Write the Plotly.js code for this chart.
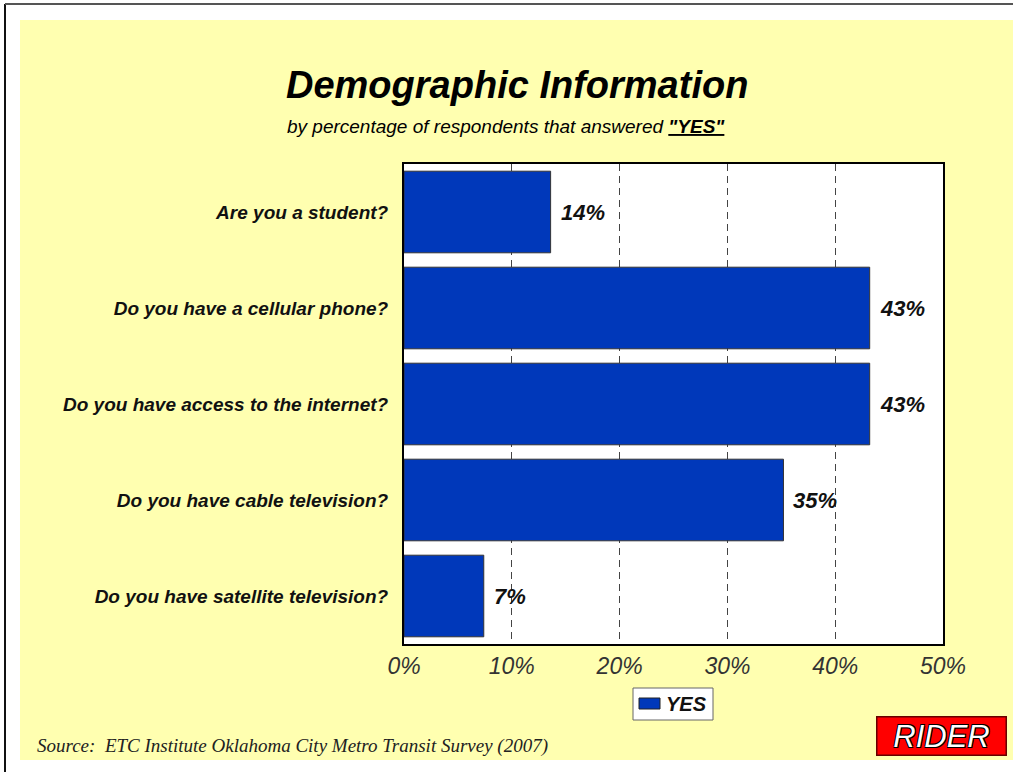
<!DOCTYPE html>
<html>
<head>
<meta charset="utf-8">
<script src="https://cdn.plot.ly/plotly-3.0.1.min.js"></script>
<style>html,body{margin:0;padding:0;background:#fff;}#chart{width:1013px;height:772px;}</style>
</head>
<body>
<div id="chart"></div>
<script>
// ---- data ----
const categories = [
  "Are you a student?",
  "Do you have a cellular phone?",
  "Do you have access to the internet?",
  "Do you have cable television?",
  "Do you have satellite television?"
];
const yesValues = [13.6, 43.2, 43.2, 35.2, 7.4];
const xTickValues = [0, 10, 20, 30, 40, 50];
const xTickLabels = ["0%", "10%", "20%", "30%", "40%", "50%"];
const seriesName = "YES";
const titleText = "Demographic Information";
const subtitleText = 'by percentage of respondents that answered <b><u>"YES"</u></b>';
const sourceText = "Source:  ETC Institute Oklahoma City Metro Transit Survey (2007)";
const badgeText = "RIDER";

// ---- geometry helpers (pixel -> paper) ----
const W = 1013, H = 772;
const M = {l: 404, r: 70, t: 164, b: 128};
const PW = W - M.l - M.r, PH = H - M.t - M.b;
const px = x => (x - M.l) / PW;
const py = y => (H - M.b - y) / PH;

const ARIAL = "Arial, 'Liberation Sans', sans-serif";
const BAR_COLOR = "#0038BA";

const trace = {
  type: "bar",
  orientation: "h",
  name: seriesName,
  x: yesValues,
  y: categories,
  marker: {color: BAR_COLOR, line: {color: "#333333", width: 1}},
  hoverinfo: "none",
  showlegend: false
};

const labelAnnotations = yesValues.map((v, i) => ({
  x: v, y: categories[i], xref: "x", yref: "y",
  text: Math.round(v) + "%",
  showarrow: false, xanchor: "left", yanchor: "middle", xshift: 8,
  font: {family: ARIAL, size: 22, color: "#111", weight: "bold", style: "italic"}
}));

const layout = {
  width: W, height: H,
  margin: {l: M.l, r: M.r, t: M.t, b: M.b, autoexpand: false},
  paper_bgcolor: "#FFFFB0",
  plot_bgcolor: "#FFFFFF",
  bargap: 0.15,
  showlegend: false,
  xaxis: {
    range: [0, 50],
    tickvals: xTickValues, ticktext: xTickLabels,
    tickfont: {family: ARIAL, size: 23, color: "#333", style: "italic"},
    ticks: "", ticklabelstandoff: 0,
    showgrid: true, gridcolor: "#444444", gridwidth: 1, griddash: "7px,5px",
    zeroline: false,
    showline: true, mirror: true, linecolor: "#000000", linewidth: 2,
    fixedrange: true
  },
  yaxis: {
    type: "category",
    categoryorder: "array", categoryarray: categories,
    autorange: "reversed",
    tickfont: {family: ARIAL, size: 19, color: "#111", weight: "bold", style: "italic"},
    ticks: "", ticklabelstandoff: 10,
    showgrid: false, zeroline: false,
    showline: true, mirror: true, linecolor: "#000000", linewidth: 2,
    fixedrange: true
  },
  shapes: [
    // white page borders outside the yellow panel
    {type: "rect", xref: "paper", yref: "paper", x0: px(0), x1: px(20), y0: py(H), y1: py(0), fillcolor: "#FFFFFF", line: {width: 0}, layer: "above"},
    {type: "rect", xref: "paper", yref: "paper", x0: px(0), x1: px(W), y0: py(20), y1: py(0), fillcolor: "#FFFFFF", line: {width: 0}, layer: "above"},
    {type: "rect", xref: "paper", yref: "paper", x0: px(0), x1: px(W), y0: py(H), y1: py(760), fillcolor: "#FFFFFF", line: {width: 0}, layer: "above"},
    // page frame lines
    {type: "line", xref: "paper", yref: "paper", x0: px(5), x1: px(5), y0: py(H), y1: py(4), line: {color: "#111", width: 2}, layer: "above"},
    {type: "line", xref: "paper", yref: "paper", x0: px(5), x1: px(W), y0: py(4), y1: py(4), line: {color: "#555", width: 2}, layer: "above"},
    // legend box and swatch
    {type: "rect", xref: "paper", yref: "paper", x0: px(633), x1: px(713), y0: py(720), y1: py(688), fillcolor: "#FFFFFF", line: {color: "#666666", width: 1}, layer: "above"},
    {type: "rect", xref: "paper", yref: "paper", x0: px(639), x1: px(660), y0: py(709), y1: py(698), fillcolor: BAR_COLOR, line: {color: "#222222", width: 1}, layer: "above"}
  ],
  annotations: labelAnnotations.concat([
    {xref: "paper", yref: "paper", x: px(517), y: py(85), xanchor: "center", yanchor: "middle", showarrow: false,
     text: titleText, font: {family: ARIAL, size: 38, color: "#000", weight: "bold", style: "italic"}},
    {xref: "paper", yref: "paper", x: px(506), y: py(126), xanchor: "center", yanchor: "middle", showarrow: false,
     text: subtitleText, font: {family: ARIAL, size: 19, color: "#000", style: "italic"}},
    {xref: "paper", yref: "paper", x: px(35), y: py(746), xanchor: "left", yanchor: "middle", showarrow: false,
     text: sourceText, font: {family: "'Times New Roman', 'Liberation Serif', serif", size: 19, color: "#222", style: "italic"}},
    {xref: "paper", yref: "paper", x: px(664), y: py(704), xanchor: "left", yanchor: "middle", showarrow: false,
     text: seriesName, font: {family: ARIAL, size: 20, color: "#111", weight: "bold", style: "italic"}},
    {xref: "paper", yref: "paper", x: px(941), y: py(736), xanchor: "center", yanchor: "middle", showarrow: false,
     text: badgeText, width: 126, height: 35, bgcolor: "#FF0000", bordercolor: "#660000", borderwidth: 1.5, borderpad: 1,
     font: {family: ARIAL, size: 31, color: "#FFFFFF", style: "italic",
            shadow: "1px 1px 0 #000, -1px -1px 0 #000, 1px -1px 0 #000, -1px 1px 0 #000"}}
  ])
};

Plotly.newPlot("chart", [trace], layout, {displayModeBar: false, staticPlot: true});
</script>
</body>
</html>
